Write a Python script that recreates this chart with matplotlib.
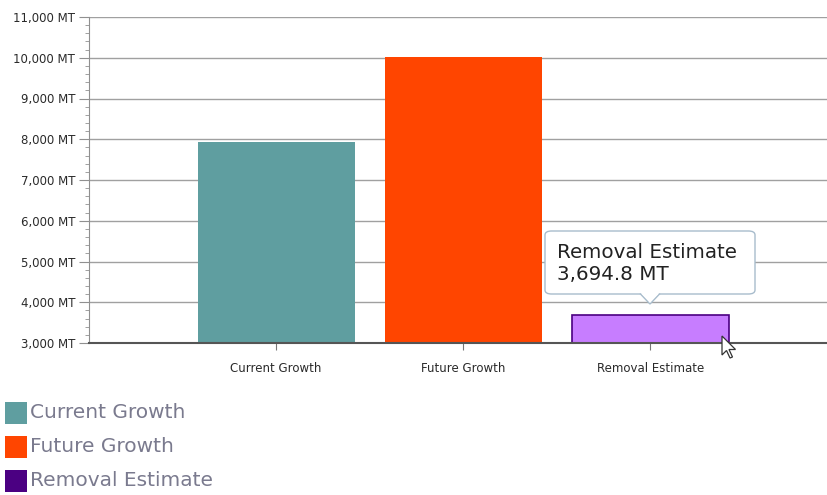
import matplotlib
matplotlib.use("Agg")
import matplotlib.pyplot as plt
from matplotlib.patches import FancyBboxPatch, Polygon
from matplotlib.ticker import FuncFormatter, MultipleLocator

categories = ["Current Growth", "Future Growth", "Removal Estimate"]
values = [7930, 10030, 3694.8]
fill_colors = ["#5f9ea0", "#ff4500", "#c77dff"]
legend_colors = ["#5f9ea0", "#ff4500", "#4b0082"]
y_ticks = [3000, 4000, 5000, 6000, 7000, 8000, 9000, 10000, 11000]
tooltip_title = "Removal Estimate"
tooltip_value = "3,694.8 MT"

W, H = 828, 495
fig = plt.figure(figsize=(W / 100, H / 100), dpi=100)
ax = fig.add_axes([89 / W, 1 - 343 / H, (W - 89) / W, (343 - 17) / H])

x = list(range(len(categories)))
bars = ax.bar(x, values, width=0.84, color=fill_colors, zorder=3)
bars[2].set_edgecolor("#4b0082")
bars[2].set_linewidth(1.2)

ax.set_xlim(-1.0, 2.95)
ax.set_ylim(y_ticks[0], y_ticks[-1])
ax.set_yticks(y_ticks)
ax.yaxis.set_minor_locator(MultipleLocator(200))
ax.yaxis.set_major_formatter(FuncFormatter(lambda v, p: f"{int(v):,} MT"))
ax.set_xticks(x)
ax.set_xticklabels(categories)

ax.grid(axis="y", which="major", color="#a0a0a0", linewidth=1.0, zorder=0)
for s in ["top", "right"]:
    ax.spines[s].set_visible(False)
ax.spines["left"].set_color("#909090")
ax.spines["bottom"].set_color("#555555")
ax.spines["bottom"].set_linewidth(1.5)
ax.spines["bottom"].set_zorder(4)

ax.tick_params(axis="y", which="major", length=7, color="#909090", labelsize=8.5,
               labelcolor="#2a2a2a", pad=3)
ax.tick_params(axis="y", which="minor", length=3, color="#909090")
ax.tick_params(axis="x", length=5, color="#777777", labelsize=8.5,
               labelcolor="#2a2a2a", pad=9)

# Tooltip
bx0, by0, bx1, by1 = 545, 231, 755, 294
tip = FancyBboxPatch((bx0 / W, 1 - by1 / H), (bx1 - bx0) / W, (by1 - by0) / H,
                     boxstyle="round,pad=0,rounding_size=0.008",
                     transform=fig.transFigure, facecolor="white",
                     edgecolor="#a8bccc", linewidth=1.0, zorder=10)
fig.add_artist(tip)
ptr = Polygon([(640 / W, 1 - 293.5 / H), (650 / W, 1 - 304 / H), (660 / W, 1 - 293.5 / H)],
              closed=False, transform=fig.transFigure, facecolor="white",
              edgecolor="#a8bccc", linewidth=1.0, zorder=11)
fig.add_artist(ptr)
cover = Polygon([(641 / W, 1 - 293.0 / H), (650 / W, 1 - 302.5 / H), (659 / W, 1 - 293.0 / H)],
                closed=True, transform=fig.transFigure, facecolor="white",
                edgecolor="none", zorder=12)
fig.add_artist(cover)
fig.text(557 / W, 1 - 253 / H, tooltip_title, fontsize=14.3, color="#222222",
         va="center", ha="left", zorder=13)
fig.text(557 / W, 1 - 275 / H, tooltip_value, fontsize=14.3, color="#222222",
         va="center", ha="left", zorder=13)

# Mouse cursor
cx, cy = 722, 336
cur = [(0, 0), (0, 19), (4.5, 14.5), (8, 22), (10.5, 21), (7, 13.5), (13.5, 13.5)]
cursor = Polygon([((cx + a) / W, 1 - (cy + b) / H) for a, b in cur], closed=True,
                 transform=fig.transFigure, facecolor="white", edgecolor="#333333",
                 linewidth=0.9, zorder=14)
fig.add_artist(cursor)

# Legend
for i, (lab, col) in enumerate(zip(categories, legend_colors)):
    yc = 413 + 34 * i
    sq = plt.Rectangle((5 / W, 1 - (yc + 11) / H), 22 / W, 22 / H,
                       transform=fig.transFigure, facecolor=col, edgecolor="none")
    fig.add_artist(sq)
    fig.text(30 / W, 1 - yc / H, lab, fontsize=14.5, color="#7a7a8e",
             va="center", ha="left")

fig.savefig("out.png", dpi=100)
